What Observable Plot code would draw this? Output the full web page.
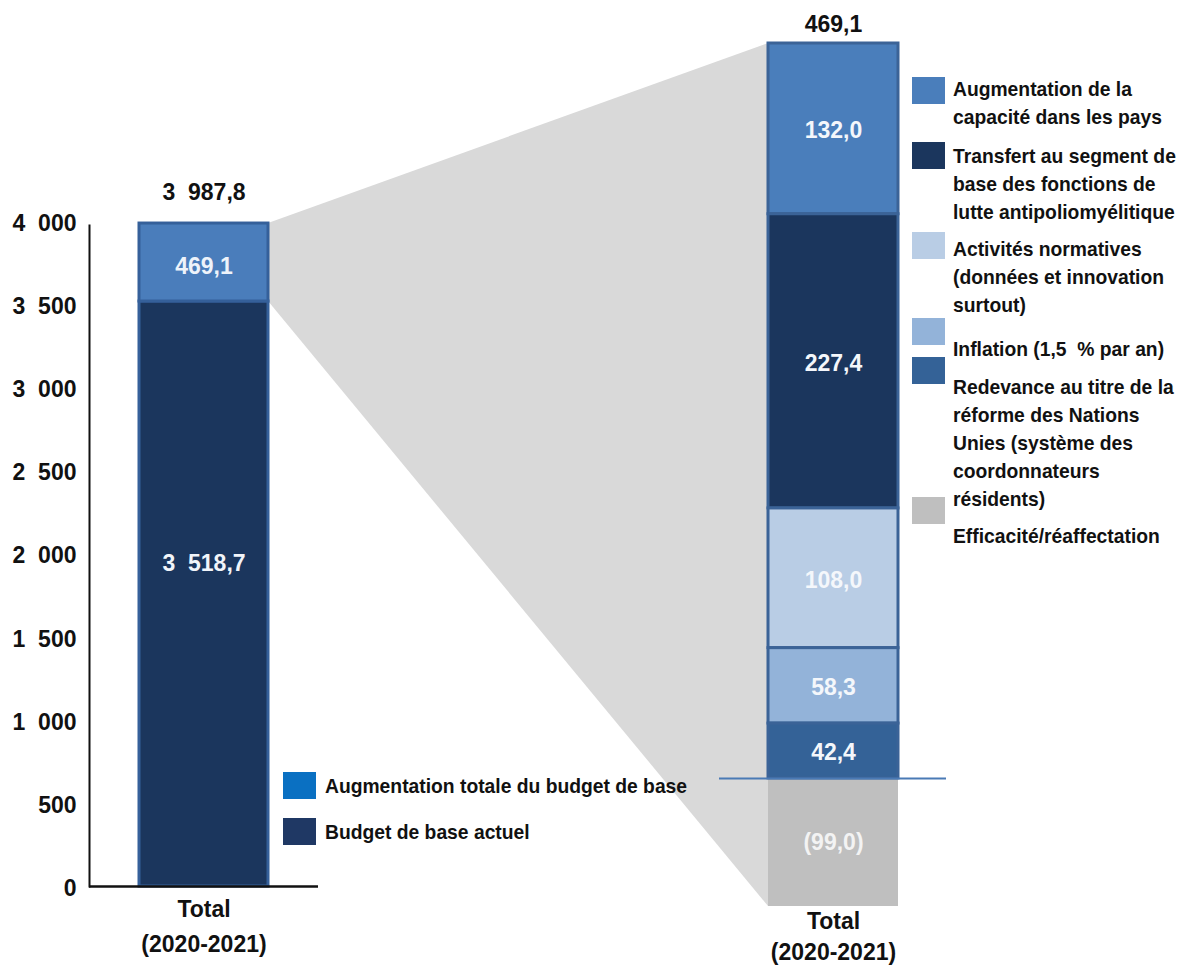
<!DOCTYPE html>
<html>
<head>
<meta charset="utf-8">
<script src="https://cdn.jsdelivr.net/npm/d3@7"></script>
<script src="https://cdn.jsdelivr.net/npm/@observablehq/plot@0.6"></script>
<style>
  html, body { margin: 0; padding: 0; background: #fff; overflow: hidden; }
  #chart { position: relative; width: 1186px; height: 970px; overflow: hidden;
           font-family: "Liberation Sans", Arial, sans-serif; font-weight: bold; color: #111; }
  #chart svg { position: absolute; left: 0; top: 0; }
  .sw { position: absolute; width: 33px; height: 27px; }
  .lt { position: absolute; font-size: 19.3px; line-height: 28px; white-space: pre-wrap; }
</style>
</head>
<body>
<div id="chart"></div>
<script>
// ---------- DATA ----------
const categories = ["Total (2020-2021)"];
const baseSeries = ["Budget de base actuel", "Augmentation totale du budget de base"];
const baseValues = [3518.7, 469.1];
const baseTotal = 3987.8;
const yTicks = [0, 500, 1000, 1500, 2000, 2500, 3000, 3500, 4000];

const increaseSeries = [
  "Augmentation de la capacité dans les pays",
  "Transfert au segment de base des fonctions de lutte antipoliomyélitique",
  "Activités normatives (données et innovation surtout)",
  "Inflation (1,5  % par an)",
  "Redevance au titre de la réforme des Nations Unies (système des coordonnateurs résidents)",
  "Efficacité/réaffectation"
];
const increaseValues = [132.0, 227.4, 108.0, 58.3, 42.4, -99.0];
const increaseTotal = 469.1;

// ---------- STYLES ----------
const baseColors = ["#1b365d", "#4a7dbb"];
const baseLegendColors = ["#1f3864", "#0a70c2"];
const increaseColors = ["#4a7ebb", "#1b365d", "#b9cde5", "#93b3d9", "#346297", "#bfbfbf"];
const font = '"Liberation Sans", Arial, sans-serif';

// ---------- FORMAT ----------
const fr = d3.formatLocale({decimal: ",", thousands: "\u2007", grouping: [3], currency: ["", ""]});
const f1 = fr.format(",.1f");
const f0 = fr.format(",.0f");
const fmt = v => v < 0 ? `(${f1(-v)})` : f1(v);
const twoLines = d => d.replace(" (", "\n(");

// ---------- TABLES ----------
const baseTable = baseSeries.map((s, i) => ({cat: categories[0], series: s, value: baseValues[i]}));
const incTable = increaseSeries.map((s, i) => ({cat: categories[0], series: s, value: increaseValues[i]}));
const posTable = incTable.filter(d => d.value > 0);
const negTable = incTable.filter(d => d.value < 0);
const stackOrder = increaseSeries.slice().reverse();
const posTop = d3.sum(posTable, d => d.value);
const negBottom = d3.sum(negTable, d => d.value);

// ---------- LEFT PLOT ----------
const leftX = {type: "band", domain: categories, range: [139, 268], padding: 0, axis: null};
const leftY = {domain: [0, 4000], range: [886, 221], axis: null};

const left = Plot.plot({
  width: 1186, height: 970,
  marginLeft: 89, marginTop: 225, marginBottom: 84, marginRight: 1186 - 318,
  style: {background: "transparent", fontFamily: font, fontWeight: "bold", fontSize: "23px", color: "#111"},
  x: leftX, y: leftY,
  color: {domain: baseSeries, range: baseColors},
  marks: [
    Plot.barY(baseTable, Plot.stackY({x: "cat", y: "value", z: "series", fill: "series", stroke: "#35609a", strokeWidth: 3})),
    Plot.text(baseTable, Plot.stackY({x: "cat", y: "value", z: "series",
      text: d => d.series === baseSeries[0] ? fmt(d.value) : null, fill: "#f2f5fa", dy: -30})),
    Plot.text(baseTable, Plot.stackY({x: "cat", y: "value", z: "series",
      text: d => d.series === baseSeries[1] ? fmt(d.value) : null, fill: "#eef3fa", dy: 4})),
    Plot.text([baseTotal], {x: () => categories[0], y: d => d, text: d => fmt(d), dy: -31, fill: "#111"}),
    Plot.axisY({ticks: yTicks, tickSize: 0, tickPadding: 13, tickFormat: f0, label: null, dy: 2}),
    Plot.axisX({tickSize: 0, tickPadding: 6, tickFormat: twoLines, label: null, lineHeight: 1.52}),
    Plot.frame({anchor: "left", stroke: "#111", strokeWidth: 2}),
    Plot.ruleY([0], {stroke: "#111", strokeWidth: 2.5})
  ]
});
const lxs = left.scale("x"), lys = left.scale("y");

// ---------- RIGHT PLOT ----------
const rightX = {type: "band", domain: categories, range: [768, 898], padding: 0, axis: null};
const rightY = {domain: [negBottom, posTop], range: [906, 43], axis: null};
const rxs = Plot.scale({x: rightX});
const rys = Plot.scale({y: rightY});

const connector = () => {
  const xL = lxs.apply(categories[0]) + lxs.bandwidth;
  const xR = rxs.apply(categories[0]);
  const pts = [
    [xL, lys.apply(baseTotal)],
    [xR, rys.apply(posTop)],
    [xR, rys.apply(negBottom)],
    [xL, lys.apply(baseValues[0])]
  ];
  const p = document.createElementNS("http://www.w3.org/2000/svg", "polygon");
  p.setAttribute("points", pts.map(d => d.join(",")).join(" "));
  p.setAttribute("fill", "#d9d9d9");
  return p;
};

const right = Plot.plot({
  width: 1186, height: 970,
  marginLeft: 719, marginRight: 1186 - 946, marginTop: 43, marginBottom: 970 - 906,
  style: {background: "transparent", fontFamily: font, fontWeight: "bold", fontSize: "23px", color: "#111"},
  x: rightX, y: rightY,
  color: {domain: increaseSeries, range: increaseColors},
  marks: [
    connector,
    Plot.barY(negTable, Plot.stackY({x: "cat", y: "value", z: "series", fill: "series"})),
    Plot.barY(posTable, Plot.stackY({x: "cat", y: "value", z: "series", order: stackOrder, fill: "series", stroke: "#3b6397", strokeWidth: 3})),
    Plot.text(posTable, Plot.stackY({x: "cat", y: "value", z: "series", order: stackOrder,
      text: d => fmt(d.value), fill: "#f4f7fb", dy: 2})),
    Plot.text(negTable, Plot.stackY({x: "cat", y: "value", z: "series",
      text: d => fmt(d.value), fill: "#f3f3f3", dy: 0})),
    Plot.text([increaseTotal], {x: () => categories[0], y: () => posTop, text: d => fmt(d), dy: -19, fill: "#111"}),
    Plot.ruleY([0], {stroke: "#4a7ab5", strokeWidth: 2}),
    Plot.axisX({tickSize: 0, tickPadding: 0, tickFormat: twoLines, label: null, lineHeight: 1.35})
  ]
});

const chart = document.getElementById("chart");
chart.appendChild(right);
chart.appendChild(left);

// ---------- LEGENDS ----------
function addItem(color, label, sx, sy, tx, ty, w) {
  const s = document.createElement("div");
  s.className = "sw";
  s.style.left = sx + "px"; s.style.top = sy + "px"; s.style.background = color;
  chart.appendChild(s);
  const t = document.createElement("div");
  t.className = "lt";
  t.style.left = tx + "px"; t.style.top = ty + "px";
  if (w) t.style.width = w + "px"; else t.style.whiteSpace = "nowrap";
  t.textContent = label;
  chart.appendChild(t);
}
// left legend (top: increase, then current budget)
const leftLegendOrder = [1, 0];
const leftSwTop = [772, 818], leftTxtTop = [773, 819];
leftLegendOrder.forEach((k, i) => addItem(baseLegendColors[k], baseSeries[k], 283, leftSwTop[i], 325, leftTxtTop[i], null));

// right legend
const rSwTop = [77, 142, 232, 318, 357, 497];
const rTxtTop = [76, 143, 236, 336, 374, 523];
increaseSeries.forEach((s, i) => addItem(increaseColors[i], s, 912, rSwTop[i], 953, rTxtTop[i], 232));
</script>
</body>
</html>
